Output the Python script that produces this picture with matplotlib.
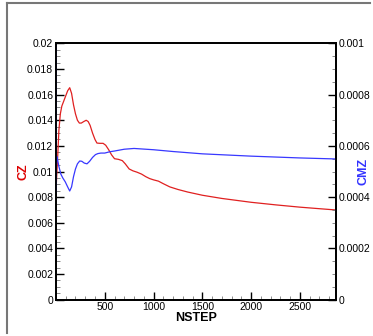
import matplotlib
matplotlib.use("Agg")
import matplotlib.pyplot as plt
from matplotlib.lines import Line2D
from matplotlib.ticker import MultipleLocator, FormatStrFormatter

plt.rcParams["font.family"] = ["Liberation Sans", "DejaVu Sans"]

# CZ history (left axis)
cz_step = [0, 5, 10, 20, 30, 45, 60, 80, 100, 120, 141, 160, 180, 200, 220, 240,
           260, 285, 310, 330, 350, 375, 400, 420, 450, 483, 510, 540, 570, 600,
           640, 680, 710, 750, 790, 830, 877, 920, 960, 1000, 1050, 1100, 1167,
           1250, 1350, 1500, 1700, 2000, 2250, 2500, 2700, 2870]
cz_val = [0.0085, 0.0092, 0.0100, 0.0115, 0.0132, 0.0145, 0.0151, 0.0155, 0.0159,
          0.0163, 0.01654, 0.0161, 0.0152, 0.0145, 0.0140, 0.01378,
          0.01378, 0.0139, 0.01400, 0.01390, 0.01360, 0.0130, 0.0125, 0.01222,
          0.01220, 0.01220, 0.01205, 0.0117, 0.0113, 0.0110, 0.01095, 0.01085,
          0.0106, 0.0102, 0.01005, 0.00995, 0.00980, 0.0096, 0.00945, 0.00935,
          0.00925, 0.00905, 0.00880, 0.00860, 0.00840, 0.00815, 0.00790, 0.00760,
          0.00740, 0.00722, 0.00710, 0.00700]

# CMZ history (right axis)
cmz_step = [0, 2, 4, 7, 15, 30, 50, 70, 95, 120, 141, 160, 180, 200, 220, 243,
            265, 290, 318, 345, 375, 405, 430, 460, 500, 550, 600, 700, 800, 1000,
            1200, 1500, 2000, 2500, 2870]
cmz_val = [0.0011, 0.00042, 0.00050, 0.00056, 0.00055, 0.00052, 0.00049, 0.000475,
           0.00046, 0.00044, 0.000424, 0.00044, 0.00048, 0.00051, 0.00053, 0.000541,
           0.00054, 0.000533, 0.00053, 0.00054, 0.000555, 0.000566, 0.00057,
           0.000572, 0.000572, 0.000577, 0.00058, 0.000587, 0.00059, 0.000585,
           0.000578, 0.000569, 0.000560, 0.000553, 0.000549]

fig = plt.figure(figsize=(3.73, 3.36), dpi=100)
ax = fig.add_axes([0.150, 0.108, 0.751, 0.763])
ax2 = ax.twinx()

ax.plot(cz_step, cz_val, color="#e02020", lw=0.9)
ax2.plot(cmz_step, cmz_val, color="#3838ff", lw=0.9)

ax.set_xlim(0, 2870)
ax.set_ylim(0, 0.02)
ax2.set_ylim(0, 0.001)

ax.xaxis.set_major_locator(MultipleLocator(500))
ax.xaxis.set_minor_locator(MultipleLocator(100))
ax.yaxis.set_major_locator(MultipleLocator(0.002))
ax.yaxis.set_minor_locator(MultipleLocator(0.0005))
ax2.yaxis.set_major_locator(MultipleLocator(0.0002))
ax2.yaxis.set_minor_locator(MultipleLocator(0.00005))
ax.yaxis.set_major_formatter(FormatStrFormatter("%g"))
ax2.yaxis.set_major_formatter(FormatStrFormatter("%g"))
ax.set_xticks([500, 1000, 1500, 2000, 2500])

for a in (ax, ax2):
    a.tick_params(which="major", direction="in", length=6, width=1.0,
                  labelsize=7.5, pad=2)
    a.tick_params(which="minor", direction="in", length=3, width=0.6,
                  color="#777777")
    for s in a.spines.values():
        s.set_linewidth(1.3)
ax.tick_params(axis="x", which="both", top=False)

ax.set_xlabel("NSTEP", fontsize=9, fontweight="bold", labelpad=0)
ax.set_ylabel("CZ", fontsize=9, fontweight="bold", color="#dd0000")
ax2.set_ylabel("CMZ", fontsize=9, fontweight="bold", color="#3333ff",
               rotation=90)
ax.yaxis.set_label_coords(-0.095, 0.5)
ax2.yaxis.set_label_coords(1.078, 0.5)

# outer frame (top and left edges)
fig.add_artist(Line2D([7 / 373, 7 / 373], [1 - 3 / 336, 1 - 333 / 336],
                      color="#777777", lw=1.5))
fig.add_artist(Line2D([7 / 373, 370 / 373], [1 - 3 / 336, 1 - 3 / 336],
                      color="#777777", lw=1.5))

fig.savefig("out.png", dpi=100)
